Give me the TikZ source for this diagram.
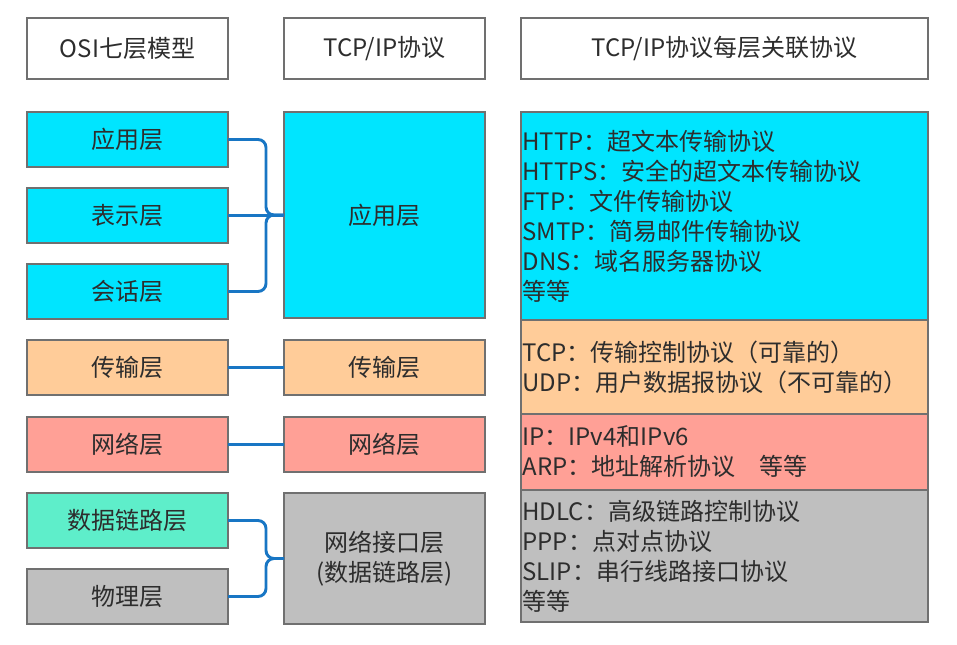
\documentclass[tikz,border=0pt]{standalone}
\usepackage{fontspec}
\setmainfont{Noto Sans CJK SC}
\usepackage{tikz}
\usetikzlibrary{positioning,calc}
\usepackage{xcolor}
\definecolor{osicyan}{RGB}{0,229,255}
\definecolor{osipeach}{RGB}{255,204,153}
\definecolor{osisalmon}{RGB}{255,160,150}
\definecolor{osimint}{RGB}{94,238,202}
\definecolor{osigray}{RGB}{191,191,191}
\definecolor{edgegray}{RGB}{112,112,112}
\definecolor{linkblue}{RGB}{24,118,196}
\definecolor{txtgray}{RGB}{45,45,45}

\begin{document}
\begin{tikzpicture}[x=0.75pt, y=-0.75pt,
    layer/.style={draw=edgegray, line width=0.9pt, text=txtgray, inner sep=1pt, outer sep=0pt,
        minimum width=150.75pt, minimum height=41.25pt,
        font=\fontsize{18}{22.5}\selectfont},
    head/.style={layer, fill=white, minimum height=45.75pt},
    proto/.style={layer, minimum width=305.25pt, text width=303pt, align=left},
    link/.style={draw=linkblue, line width=2.2pt, rounded corners=6pt}]
    \useasboundingbox (0,0) rectangle (957,645);

    % headers
    \node[head, anchor=north west] (hosi) at (27,18) {OSI七层模型};
    \node[head, right=42pt of hosi] (htcp) {TCP/IP协议};
    \node[head, right=27pt of htcp, minimum width=305.25pt] (hproto) {TCP/IP协议每层关联协议};

    % OSI seven layers
    \node[layer, fill=osicyan, below=24.75pt of hosi] (app) {应用层};
    \node[layer, fill=osicyan, below=15.75pt of app] (pres) {表示层};
    \node[layer, fill=osicyan, below=15.75pt of pres] (sess) {会话层};
    \node[layer, fill=osipeach, below=15.75pt of sess] (trans) {传输层};
    \node[layer, fill=osisalmon, below=16.5pt of trans] (net) {网络层};
    \node[layer, fill=osimint, below=15.75pt of net] (dlink) {数据链路层};
    \node[layer, fill=osigray, below=15.75pt of dlink] (phys) {物理层};

    % TCP/IP four layers
    \node[layer, fill=osicyan, anchor=north west, minimum height=154.5pt] (tapp) at ([xshift=42pt]app.north east) {应用层};
    \node[layer, fill=osipeach, right=42pt of trans] (ttrans) {传输层};
    \node[layer, fill=osisalmon, right=42pt of net] (tnet) {网络层};
    \node[layer, fill=osigray, anchor=north west, minimum height=98.25pt, align=center] (tif) at ([xshift=42pt]dlink.north east) {网络接口层\\(数据链路层)};

    % protocols of each layer
    \node[proto, fill=osicyan, anchor=north west, minimum height=156pt] (papp) at ([xshift=27pt]tapp.north east)
        {HTTP：超文本传输协议\\HTTPS：安全的超文本传输协议\\FTP：文件传输协议\\SMTP：简易邮件传输协议\\DNS：域名服务器协议\\等等};
    \node[proto, fill=osipeach, below=0pt of papp, minimum height=70.5pt] (ptrans)
        {TCP：传输控制协议（可靠的）\\UDP：用户数据报协议（不可靠的）};
    \node[proto, fill=osisalmon, below=0pt of ptrans, minimum height=57pt] (pnet)
        {IP：IPv4和IPv6\\ARP：地址解析协议\hspace{1em}等等};
    \node[proto, fill=osigray, below=0pt of pnet, minimum height=99pt] (pif)
        {HDLC：高级链路控制协议\\PPP：点对点协议\\SLIP：串行线路接口协议\\等等};

    % links OSI -> TCP/IP
    \coordinate (jtop) at ([xshift=-13.5pt]tapp.west);
    \coordinate (jbot) at ([xshift=-13.5pt]tif.west);
    \draw[link] (app.east) -| (jtop) -- (tapp.west);
    \draw[link] (sess.east) -| (jtop) -- (tapp.west);
    \draw[link] (pres.east) -- (pres.east -| tapp.west);
    \draw[link] (trans.east) -- (ttrans.west);
    \draw[link] (net.east) -- (tnet.west);
    \draw[link] (dlink.east) -| (jbot) -- (tif.west);
    \draw[link] (phys.east) -| (jbot) -- (tif.west);
\end{tikzpicture}
\end{document}
